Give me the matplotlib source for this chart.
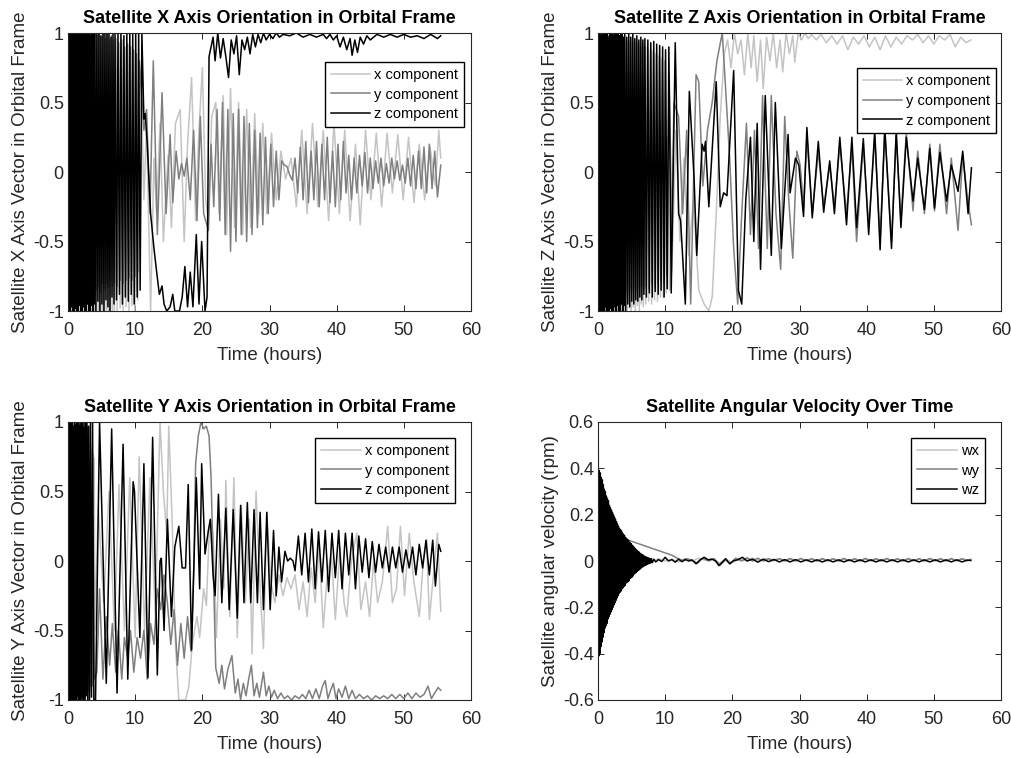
import numpy as np
import matplotlib
matplotlib.use("Agg")
import matplotlib.pyplot as plt

plt.rcParams['font.family'] = ['Liberation Sans', 'DejaVu Sans']

# ---------------- data (time in hours, value) ----------------
xticks = [0, 10, 20, 30, 40, 50, 60]
xtick_labels = ["0", "10", "20", "30", "40", "50", "60"]
yticks_orient = [-1, -0.5, 0, 0.5, 1]
ytick_labels_orient = ["-1", "-0.5", "0", "0.5", "1"]
yticks_w = [-0.6, -0.4, -0.2, 0, 0.2, 0.4, 0.6]
ytick_labels_w = ["-0.6", "-0.4", "-0.2", "0", "0.2", "0.4", "0.6"]

# Panel 1: satellite X axis
x_axis_x = [(0,0.2),(0.12,-1),(0.22,0.95),(0.32,-1),(0.42,0.92),(0.52,-1),(0.62,0.95),(0.72,-1),(0.82,0.9),(0.92,-1),
            (1.02,0.93),(1.12,-1),(1.22,0.9),(1.32,-1),(1.42,0.92),(1.52,-1),(1.62,0.88),(1.72,-1),(1.82,0.9),(1.92,-1),
            (2.02,0.87),(2.12,-1),(2.22,0.9),(2.32,-1),(2.42,0.85),(2.52,-1),(2.62,0.88),(2.72,-1),(2.82,0.85),(2.92,-1),
            (3.02,0.87),(3.12,-1),(3.22,0.83),(3.32,-1),(3.42,0.85),(3.52,-1),(3.62,0.82),(3.72,-1),(3.82,0.84),(3.92,-1),
            (4.05,0.8),(4.2,-1),(4.35,0.82),(4.5,-1),(4.65,0.8),(4.8,-1),(4.95,0.78),(5.1,-1),(5.25,0.8),(5.4,-1),
            (5.55,0.77),(5.7,-1),(5.85,0.78),(6.0,-1),(6.15,0.75),(6.3,-1),(6.45,0.77),(6.6,-1),(6.75,0.74),(6.9,-1),
            (7.1,0.75),(7.32,-1),(7.54,0.72),(7.76,-0.98),(7.98,0.74),(8.2,-1),(8.42,0.7),(8.64,-0.97),(8.86,0.72),(9.08,-1),
            (9.3,0.7),(9.52,-0.96),(9.74,0.7),(9.96,-1),(10.18,0.68),(10.4,-0.92),(10.62,0.7),(10.9,0.6),(11.3,-0.2),(11.7,0.35),
            (12.3,-1),(12.8,0.1),(13.2,-0.3),(13.7,0.35),(14.2,-0.5),(14.9,0.12),(15.4,-0.4),(16.0,0.35),(16.7,0.45),(17.3,-0.5),
            (17.8,0.2),(18.4,0.68),(19.0,-0.35),(19.5,0.3),(20.0,0.75),(20.5,-0.2),(20.9,-0.35),(21.4,0.4),(22.0,0.5),(22.5,-0.3),
            (23.1,0.55),(23.6,-0.45),(24.2,0.6),(24.8,-0.4),(25.4,0.5),(26.0,-0.45),(26.6,0.45),(27.2,-0.4),(27.8,0.42),(28.4,-0.3),
            (29.0,0.35),(29.6,-0.3),(30.3,0.28),(31.0,-0.2),(31.7,0.15),(32.4,-0.05),(33.2,0.1),(34.0,-0.25),(34.8,0.3),(35.6,-0.3),
            (36.4,0.35),(37.2,-0.25),(38.0,0.3),(38.8,-0.35),(39.6,0.35),(40.4,-0.3),(41.2,0.3),(42.0,-0.35),(42.8,0.2),(43.5,-0.38),
            (44.3,0.3),(45.1,-0.2),(45.9,0.28),(46.7,-0.25),(47.5,0.28),(48.3,-0.15),(49.1,0.27),(49.9,-0.2),(50.7,0.25),(51.5,-0.22),
            (52.3,0.2),(53.1,-0.2),(53.9,0.18),(54.7,-0.1),(55.2,0.3),(55.5,0.1)]
x_axis_y = [(0,-0.9),(0.05,1),(0.15,-0.95),(0.25,1),(0.35,-0.92),(0.45,1),(0.55,-0.95),(0.65,1),(0.75,-0.9),(0.85,1),
            (0.95,-0.93),(1.05,1),(1.15,-0.9),(1.25,1),(1.35,-0.92),(1.45,1),(1.55,-0.88),(1.65,1),(1.75,-0.9),(1.85,1),
            (1.95,-0.87),(2.05,1),(2.15,-0.9),(2.25,1),(2.35,-0.86),(2.45,1),(2.55,-0.88),(2.65,1),(2.75,-0.85),(2.85,1),
            (2.95,-0.88),(3.05,1),(3.15,-0.84),(3.25,1),(3.35,-0.87),(3.45,1),(3.55,-0.83),(3.65,1),(3.75,-0.86),(3.85,1),
            (3.95,-0.82),(4.07,1),(4.22,-0.85),(4.37,0.98),(4.52,-0.82),(4.67,1),(4.82,-0.86),(4.97,0.97),(5.12,-0.8),(5.27,1),
            (5.42,-0.84),(5.57,0.96),(5.72,-0.8),(5.87,1),(6.02,-0.83),(6.17,0.95),(6.32,-0.78),(6.47,0.98),(6.62,-0.82),(6.77,0.95),
            (6.92,-0.8),(7.1,0.96),(7.33,-0.82),(7.55,0.93),(7.77,-0.78),(7.99,0.95),(8.21,-0.8),(8.43,0.9),(8.65,-0.78),(8.87,0.92),
            (9.09,-0.76),(9.31,0.9),(9.53,-0.78),(9.75,0.88),(9.97,-0.75),(10.19,0.85),(10.41,-0.72),(10.63,0.8),(10.9,0.6),(11.3,0.3),
            (11.7,0.45),(12.2,-0.3),(12.7,0.8),(13.3,-0.45),(14.0,0.57),(14.6,-0.3),(15.2,0.27),(15.6,-0.22),(16.1,0.15),(16.5,-0.05),
            (16.9,0.06),(17.3,-0.03),(17.7,0.1),(18.2,-0.2),(18.7,0.3),(19.2,-0.35),(19.7,0.4),(20.2,-0.3),(20.9,-0.42),(21.3,0.2),
            (21.7,-0.25),(22.2,0.45),(22.6,-0.35),(23.0,0.5),(23.4,-0.45),(23.8,0.45),(24.2,-0.57),(24.6,0.42),(25.0,-0.5),(25.4,0.45),
            (25.8,-0.45),(26.2,0.4),(26.6,-0.5),(27.0,0.35),(27.4,-0.45),(27.8,0.3),(28.2,-0.4),(28.6,0.28),(29.0,-0.38),(29.4,0.25),
            (29.8,-0.3),(30.2,0.2),(30.6,-0.25),(31.0,0.15),(31.4,-0.2),(31.8,0.08),(32.2,0.05),(32.6,0.04),(33.0,-0.02),(33.4,-0.06),
            (33.8,0.1),(34.2,-0.15),(34.6,0.18),(35.0,-0.2),(35.4,0.22),(35.8,-0.22),(36.2,0.15),(36.6,-0.2),(37.0,0.22),(37.4,-0.25),
            (37.8,0.2),(38.2,-0.2),(38.6,0.25),(39.0,-0.22),(39.4,0.15),(39.8,-0.25),(40.2,0.2),(40.6,-0.2),(41.0,0.22),(41.4,-0.15),
            (41.8,0.12),(42.2,-0.2),(42.6,0.1),(43.0,-0.15),(43.4,0.12),(43.8,-0.1),(44.2,0.14),(44.6,-0.15),(45.0,0.1),(45.4,-0.12),
            (45.8,0.08),(46.2,-0.08),(46.6,0.1),(47.0,-0.1),(47.4,0.06),(47.8,-0.08),(48.2,0.1),(48.6,-0.05),(49.0,0.08),(49.4,-0.06),
            (49.8,0.05),(50.2,-0.08),(50.6,0.1),(51.0,-0.1),(51.4,0.12),(51.8,-0.12),(52.2,0.15),(52.6,-0.12),(53.0,0.18),(53.4,-0.15),
            (53.8,0.2),(54.2,-0.12),(54.6,0.15),(55.0,-0.18),(55.5,0.05)]
x_axis_z = [(0,1),(0.1,-1),(0.2,1),(0.3,-1),(0.4,1),(0.5,-0.97),(0.6,1),(0.7,-1),(0.8,1),(0.9,-1),
            (1.0,1),(1.1,-0.98),(1.2,1),(1.3,-1),(1.4,1),(1.5,-1),(1.6,1),(1.7,-0.96),(1.8,1),(1.9,-1),
            (2.0,1),(2.1,-1),(2.2,1),(2.3,-0.97),(2.4,1),(2.5,-1),(2.6,1),(2.7,-1),(2.8,1),(2.9,-0.95),
            (3.0,1),(3.1,-1),(3.2,1),(3.3,-1),(3.4,0.98),(3.5,-0.96),(3.6,1),(3.7,-1),(3.8,1),(3.9,-0.95),
            (4.0,1),(4.15,-1),(4.3,1),(4.45,-0.93),(4.6,1),(4.75,-1),(4.9,0.98),(5.05,-0.95),(5.2,1),(5.35,-1),
            (5.5,1),(5.65,-0.92),(5.8,1),(5.95,-0.97),(6.1,1),(6.25,-1),(6.4,0.97),(6.55,-0.9),(6.7,1),(6.85,-0.95),
            (7.0,1),(7.22,-0.92),(7.44,1),(7.66,-0.88),(7.88,1),(8.1,-0.95),(8.32,0.98),(8.54,-0.9),(8.76,1),(8.98,-0.93),
            (9.2,1),(9.42,-0.88),(9.64,1),(9.86,-0.95),(10.08,1),(10.3,-0.9),(10.52,1),(10.74,-0.85),(11.0,1),(11.3,0.38),
            (11.5,0.42),(11.8,0.2),(12.3,-0.3),(12.8,-0.55),(13.2,-0.72),(13.6,-0.88),(14.0,-0.82),(14.3,-0.95),(14.7,-1),(15.2,-0.97),
            (15.6,-0.88),(15.9,-1),(16.6,-1),(17.0,-0.9),(17.4,-0.68),(17.8,-0.97),(18.2,-0.72),(18.6,-0.97),(19.1,-0.45),(19.5,-0.95),
            (19.9,-0.5),(20.4,-1),(20.7,-0.9),(21.0,0.83),(21.3,0.9),(21.6,0.97),(21.9,0.8),(22.3,1.0),(22.7,0.82),(23.1,0.96),
            (23.5,0.83),(23.9,0.68),(24.3,0.95),(24.7,0.85),(25.1,0.98),(25.5,0.7),(25.9,0.95),(26.3,0.88),(26.7,0.97),(27.1,0.85),
            (27.5,0.99),(27.9,0.9),(28.3,0.99),(28.7,0.93),(29.1,1.0),(29.5,0.95),(30,0.99),(30.5,0.96),(31,1),(31.5,0.97),
            (32,0.99),(33,0.98),(34,1.0),(35,0.97),(36,0.99),(37,0.97),(38,0.99),(38.5,0.96),(39,0.99),(39.5,0.95),
            (40,0.98),(40.5,0.9),(41,0.97),(41.5,0.88),(42,0.96),(42.3,0.84),(42.7,0.95),(43.1,0.86),(43.5,0.97),(44,0.92),
            (44.5,0.98),(45,0.95),(46,0.99),(47,0.97),(48,0.99),(49,0.97),(50,0.99),(51,0.97),(52,0.98),(53,0.96),
            (54,0.99),(55,0.96),(55.5,0.98)]

# Panel 2: satellite Z axis
z_axis_x = [(0,-1),(0.1,0.9),(0.2,-1),(0.3,0.85),(0.4,-1),(0.5,0.9),(0.6,-1),(0.7,0.85),(0.8,-1),(0.9,0.82),
            (1.0,-1),(1.1,0.85),(1.2,-1),(1.3,0.8),(1.4,-1),(1.5,0.82),(1.6,-1),(1.7,0.78),(1.8,-1),(1.9,0.8),
            (2.0,-1),(2.1,0.77),(2.2,-1),(2.3,0.78),(2.4,-1),(2.5,0.75),(2.6,-1),(2.7,0.76),(2.8,-1),(2.9,0.72),
            (3.0,-1),(3.1,0.74),(3.2,-1),(3.3,0.7),(3.4,-1),(3.5,0.72),(3.6,-1),(3.7,0.68),(3.8,-1),(3.9,0.7),
            (4.05,-1),(4.2,0.66),(4.35,-1),(4.5,0.65),(4.65,-0.98),(4.8,0.62),(4.95,-1),(5.1,0.6),(5.25,-0.97),(5.4,0.6),
            (5.55,-1),(5.7,0.57),(5.85,-0.96),(6.0,0.55),(6.15,-1),(6.3,0.52),(6.45,-0.95),(6.6,0.5),(6.75,-0.97),(6.9,0.48),
            (7.1,-0.95),(7.32,0.45),(7.54,-0.93),(7.76,0.42),(7.98,-0.95),(8.2,0.4),(8.42,-0.92),(8.64,0.38),(8.86,-0.93),(9.08,0.35),
            (9.3,-0.9),(9.52,0.32),(9.74,-0.9),(9.96,0.3),(10.18,-0.87),(10.4,0.25),(10.62,-0.85),(11.0,-0.7),(11.6,0.3),(12.2,-0.5),
            (12.8,0.1),(13.5,-0.6),(14.2,-0.2),(15.0,-0.85),(15.8,-0.95),(16.5,-1.0),(17.0,-0.9),(17.6,-0.3),(18.2,0.4),(18.8,0.85),
            (19.3,0.95),(19.8,0.75),(20.3,1.0),(20.8,0.85),(21.3,0.95),(21.8,0.7),(22.3,1.0),(22.8,0.75),(23.2,0.98),(23.7,0.65),
            (24.2,0.95),(24.6,0.6),(25.1,0.97),(25.6,0.8),(26.1,1.0),(26.6,0.75),(27.1,0.95),(27.5,0.72),(28.0,1.0),(28.5,0.85),
            (29.0,0.98),(29.3,0.79),(29.8,1.0),(30.3,0.95),(30.8,1.0),(31.3,0.96),(31.8,0.99),(32.5,0.95),(33.2,0.99),(34.0,0.93),
            (34.8,0.98),(35.6,0.92),(36.4,0.98),(37.2,0.88),(38.0,0.97),(38.8,0.92),(39.6,0.98),(40.4,0.9),(41.2,0.97),(42.0,0.88),
            (42.8,0.98),(43.6,0.9),(44.4,0.97),(45.2,0.92),(46.0,0.98),(46.8,0.95),(47.6,0.99),(48.4,0.93),(49.2,0.98),(50.0,0.92),
            (50.8,0.98),(51.6,0.95),(52.4,0.99),(53.2,0.9),(54.0,0.97),(54.8,0.93),(55.5,0.95)]
z_axis_y = [(0,0.5),(0.06,-1),(0.16,1),(0.26,-1),(0.36,1),(0.46,-0.95),(0.56,1),(0.66,-1),(0.76,1),(0.86,-0.95),
            (0.96,1),(1.06,-0.97),(1.16,1),(1.26,-0.93),(1.36,1),(1.46,-0.95),(1.56,0.98),(1.66,-0.92),(1.76,1),(1.86,-0.94),
            (1.96,0.98),(2.06,-0.9),(2.16,1),(2.26,-0.93),(2.36,0.97),(2.46,-0.9),(2.56,1),(2.66,-0.92),(2.76,0.96),(2.86,-0.88),
            (2.96,0.98),(3.06,-0.9),(3.16,0.96),(3.26,-0.87),(3.36,0.97),(3.46,-0.9),(3.56,0.95),(3.66,-0.86),(3.76,0.96),(3.86,-0.88),
            (3.96,0.95),(4.1,-0.86),(4.25,0.95),(4.4,-0.88),(4.55,0.94),(4.7,-0.85),(4.85,0.95),(5.0,-0.87),(5.15,0.93),(5.3,-0.84),
            (5.45,0.94),(5.6,-0.86),(5.75,0.92),(5.9,-0.83),(6.05,0.93),(6.2,-0.85),(6.35,0.9),(6.5,-0.82),(6.65,0.92),(6.8,-0.84),
            (6.95,0.9),(7.15,-0.82),(7.37,0.9),(7.59,-0.84),(7.81,0.88),(8.03,-0.8),(8.25,0.87),(8.47,-0.82),(8.69,0.85),(8.91,-0.8),
            (9.13,0.84),(9.35,-0.78),(9.57,0.82),(9.79,-0.8),(10.01,0.8),(10.23,-0.75),(10.6,0.7),(11.0,-0.5),(11.3,0.5),(12.0,0.4),
            (12.6,-0.3),(13.2,0.3),(13.8,-0.95),(14.6,0.7),(15.0,0.65),(15.6,-0.1),(16.3,0.3),(17.0,0.5),(17.7,0.8),(18.5,1.0),
            (19.0,0.6),(19.6,0.1),(20.2,-0.55),(20.8,-0.95),(21.4,-0.3),(22.1,0.35),(22.7,-0.45),(23.3,0.3),(23.9,-0.55),(24.5,0.55),
            (25.2,-0.55),(25.8,0.55),(26.5,-0.3),(27.2,-0.7),(27.8,0.4),(28.4,-0.2),(29.0,-0.62),(29.6,0.15),(30.1,0.05),(30.6,-0.25),
            (31.1,0.25),(31.9,-0.3),(32.8,0.15),(33.6,-0.25),(34.5,0.05),(35.2,-0.25),(36.0,0.2),(37.0,-0.3),(37.8,0.18),(38.5,-0.5),
            (39.5,0.2),(40.3,-0.4),(41.2,0.25),(42.0,-0.48),(42.7,0.3),(43.7,-0.5),(44.4,0.25),(45.1,-0.35),(45.9,0.28),(46.9,-0.28),
            (47.6,0.15),(48.6,-0.3),(49.4,0.2),(50.1,-0.28),(50.9,0.2),(51.9,-0.3),(52.6,0.1),(53.6,-0.42),(54.3,0.12),(55.1,-0.22),
            (55.6,-0.38)]
z_axis_z = [(0,1),(0.08,-1),(0.18,1),(0.28,-1),(0.38,1),(0.48,-1),(0.58,0.98),(0.68,-1),(0.78,1),(0.88,-1),
            (0.98,1),(1.08,-0.97),(1.18,1),(1.28,-1),(1.38,1),(1.48,-1),(1.58,0.97),(1.68,-1),(1.78,1),(1.88,-0.98),
            (1.98,1),(2.08,-1),(2.18,1),(2.28,-1),(2.38,0.98),(2.48,-0.97),(2.58,1),(2.68,-1),(2.78,1),(2.88,-0.96),
            (2.98,1),(3.08,-1),(3.18,0.98),(3.28,-1),(3.38,1),(3.48,-0.95),(3.58,1),(3.68,-1),(3.78,0.97),(3.88,-0.96),
            (3.98,1),(4.13,-1),(4.28,0.97),(4.43,-0.95),(4.58,1),(4.73,-0.97),(4.88,0.97),(5.03,-0.93),(5.18,1),(5.33,-0.95),
            (5.48,0.96),(5.63,-0.92),(5.78,0.98),(5.93,-0.93),(6.08,0.95),(6.23,-0.9),(6.38,0.97),(6.53,-0.92),(6.68,0.95),(6.83,-0.88),
            (6.98,0.96),(7.2,-0.9),(7.42,0.95),(7.64,-0.87),(7.86,0.93),(8.08,-0.9),(8.3,0.94),(8.52,-0.86),(8.74,0.92),(8.96,-0.88),
            (9.18,0.91),(9.4,-0.85),(9.62,0.9),(9.84,-0.9),(10.06,0.88),(10.3,-0.84),(10.55,0.9),(10.9,-0.87),(11.5,0.93),(12.0,-0.3),
            (12.3,-0.35),(13.0,-0.95),(13.6,0.58),(14.3,-0.04),(14.7,-0.6),(15.5,0.2),(15.8,0.15),(16.0,0.22),(16.5,-0.25),(17.6,0.65),
            (18.2,-0.25),(18.7,-0.15),(19.2,-0.17),(20.2,0.73),(20.9,-0.85),(21.4,-0.95),(22.0,-0.2),(22.7,0.25),(23.2,-0.5),(23.7,0.35),
            (24.2,-0.7),(24.9,0.55),(25.8,-0.6),(26.4,0.5),(27.3,-0.55),(28.3,0.27),(28.6,-0.15),(29.4,0.1),(29.9,0.05),(30.6,-0.32),
            (31.1,0.32),(31.9,-0.33),(32.8,0.22),(33.6,-0.29),(34.5,0.08),(35.2,-0.3),(36.0,0.25),(37.0,-0.38),(37.8,0.25),(38.5,-0.4),
            (39.5,0.24),(40.3,-0.45),(41.2,0.3),(42.0,-0.56),(42.7,0.32),(43.7,-0.55),(44.4,0.3),(45.1,-0.4),(45.9,0.25),(46.9,-0.21),
            (47.6,0.1),(48.6,-0.27),(49.4,0.17),(50.1,-0.26),(50.9,0.14),(51.9,-0.21),(52.6,0.05),(53.6,-0.14),(54.3,0.15),(55.1,-0.3),
            (55.6,0.03)]

# Panel 3: satellite Y axis
y_axis_x = [(0,0),(0.1,1),(0.2,-0.9),(0.3,1),(0.4,-0.92),(0.5,1),(0.6,-0.9),(0.7,1),(0.8,-0.88),(0.9,1),
            (1.0,-0.87),(1.1,0.98),(1.2,-0.85),(1.3,1),(1.4,-0.83),(1.5,0.97),(1.6,-0.82),(1.7,0.98),(1.8,-0.8),(1.9,0.95),
            (2.0,-0.78),(2.1,0.95),(2.2,-0.75),(2.3,0.92),(2.4,-0.73),(2.5,0.9),(2.6,-0.7),(2.7,0.9),(2.8,-0.68),(2.9,0.86),
            (3.0,-0.65),(3.1,0.85),(3.2,-0.62),(3.3,0.82),(3.4,-0.6),(3.5,0.8),(3.6,-0.57),(3.7,0.77),(3.8,-0.55),(3.9,0.74),
            (4.0,-0.5),(4.5,0.4),(5.3,-0.3),(6.1,0.5),(6.9,-0.5),(7.6,0.55),(8.4,-0.5),(9.2,0.6),(10.0,-0.55),(10.6,0.75),
            (11.4,-0.5),(12.2,0.6),(13.0,-0.4),(13.7,1.0),(14.2,0.5),(14.7,0.2),(15.0,0.97),(15.5,0.3),(16.0,-0.6),(16.5,-1.0),
            (17.5,-1.0),(18.0,-0.9),(18.5,-0.6),(19.2,-0.4),(19.6,-0.55),(20.2,-0.2),(20.6,-0.32),(21.1,0.3),(21.6,0.2),(22.1,-0.55),
            (22.7,0.3),(23.2,-0.2),(23.5,0.58),(24.1,-0.4),(24.7,0.6),(25.2,-0.55),(25.8,0.4),(26.4,-0.3),(27.0,0.3),(27.4,-0.67),
            (28.0,0.5),(28.6,-0.2),(29.1,-0.63),(29.6,0.35),(30.2,-0.15),(30.8,-0.3),(31.4,-0.1),(32.0,-0.25),(32.6,-0.12),(33.2,-0.2),
            (33.8,-0.1),(34.4,-0.35),(35.0,-0.15),(35.6,-0.4),(36.2,-0.05),(36.8,-0.3),(37.4,0.1),(38.0,-0.48),(38.6,-0.1),(39.2,0.05),
            (39.8,-0.42),(40.5,0.1),(41.1,-0.3),(41.5,-0.4),(42.2,0.0),(43.0,0.2),(43.6,-0.35),(44.3,-0.15),(44.9,-0.4),(45.5,0.0),
            (46.1,-0.3),(46.8,-0.15),(47.6,0.25),(48.3,-0.3),(48.9,-0.2),(49.5,0.25),(50.1,-0.25),(50.8,0.2),(51.5,-0.15),(52.3,-0.4),
            (52.9,0.0),(53.4,0.15),(53.8,-0.42),(54.4,-0.1),(55.0,0.2),(55.5,-0.36)]
y_axis_y = [(0,-1),(0.1,1),(0.2,-1),(0.3,0.95),(0.4,-1),(0.5,0.92),(0.6,-1),(0.7,0.9),(0.8,-1),(0.9,0.88),
            (1.0,-0.98),(1.1,0.85),(1.2,-1),(1.3,0.82),(1.4,-0.97),(1.5,0.8),(1.6,-1),(1.7,0.76),(1.8,-0.96),(1.9,0.72),
            (2.0,-1),(2.1,0.68),(2.2,-0.95),(2.3,0.64),(2.4,-0.98),(2.5,0.6),(2.6,-0.94),(2.7,0.55),(2.8,-0.95),(2.9,0.5),
            (3.0,-0.93),(3.1,0.45),(3.2,-0.94),(3.3,0.4),(3.4,-0.9),(3.5,0.35),(3.6,-0.9),(3.75,0.3),(3.9,-0.85),(4.3,-0.8),
            (4.7,-0.2),(5.2,-0.85),(5.7,-0.4),(6.2,-0.75),(6.6,-0.45),(7.1,-0.8),(7.5,-0.5),(8.0,-0.85),(8.4,-0.55),(8.9,-0.7),
            (9.3,-0.5),(9.8,-0.8),(10.3,-0.55),(10.8,-0.7),(11.3,-0.5),(11.8,-0.85),(12.3,-0.45),(12.8,-0.6),(13.3,-0.2),(13.8,-0.35),
            (14.3,-0.1),(14.8,-0.3),(15.3,-0.6),(15.8,-0.35),(16.3,-0.75),(16.8,-0.45),(17.3,-0.7),(17.8,-0.4),(18.3,-0.65),(18.7,-0.1),
            (19.0,0.7),(19.4,0.9),(19.8,1.0),(20.2,0.95),(20.6,0.97),(21.0,0.9),(21.3,0.6),(21.6,0.0),(22.0,-0.77),(22.5,-0.88),
            (22.9,-0.75),(23.3,-0.92),(23.8,-0.78),(24.4,-0.68),(24.9,-0.95),(25.3,-0.85),(25.7,-1.0),(26.1,-0.88),(26.5,-0.97),(26.9,-0.85),
            (27.3,-0.75),(27.7,-0.97),(28.1,-0.88),(28.5,-0.98),(29.1,-0.8),(29.5,-0.97),(29.9,-0.9),(30.3,-0.98),(30.7,-0.93),(31.2,-0.99),
            (31.7,-0.95),(32.2,-0.99),(32.7,-0.97),(33.3,-1.0),(33.8,-0.97),(34.4,-0.99),(34.9,-0.96),(35.4,-0.99),(35.9,-0.93),(36.4,-0.99),
            (36.9,-0.92),(37.4,-0.99),(37.9,-0.9),(38.3,-0.86),(38.7,-0.99),(39.1,-0.93),(39.5,-0.88),(39.9,-0.99),(40.3,-0.92),(40.8,-0.98),
            (41.3,-0.9),(41.8,-0.99),(42.3,-0.93),(42.8,-0.99),(43.4,-0.96),(44.0,-0.99),(44.6,-0.97),(45.2,-1.0),(45.8,-0.97),(46.4,-0.99),
            (47.0,-0.97),(47.6,-0.99),(48.2,-0.96),(48.8,-0.99),(49.4,-0.96),(50.0,-0.99),(50.6,-0.95),(51.2,-0.99),(51.8,-0.95),(52.4,-0.98),
            (53.0,-0.96),(53.6,-0.9),(54.1,-0.99),(54.6,-0.95),(55.1,-0.91),(55.5,-0.93)]
y_axis_z = [(0,1),(0.08,-1),(0.18,1),(0.28,-1),(0.38,1),(0.48,-1),(0.58,1),(0.68,-1),(0.78,0.97),(0.88,-1),
            (0.98,1),(1.08,-1),(1.18,0.98),(1.28,-1),(1.38,1),(1.48,-0.97),(1.58,1),(1.68,-1),(1.78,0.97),(1.88,-1),
            (1.98,1),(2.08,-0.98),(2.18,1),(2.28,-1),(2.38,0.96),(2.48,-1),(2.58,1),(2.7,-0.97),(2.82,1),(2.94,-1),
            (3.06,0.97),(3.2,-1),(3.34,1),(3.5,-0.98),(3.66,1),(3.85,-1),(4.1,-1),(4.7,1.0),(5.7,-0.88),(6.5,0.95),
            (7.3,-0.95),(8.2,0.84),(8.9,-0.85),(9.7,0.57),(9.9,0.5),(10.7,-0.55),(11.3,0.7),(11.9,-0.84),(12.6,0.89),(13.3,-0.82),
            (13.7,0.0),(13.9,0.02),(14.3,-0.5),(14.8,0.3),(15.4,-0.4),(15.9,0.1),(16.5,0.25),(17.0,-0.05),(17.5,-0.05),(17.9,0.55),
            (18.4,-0.64),(19.1,0.6),(19.6,-0.2),(19.9,0.7),(20.4,0.05),(20.9,0.22),(21.2,0.3),(21.6,-0.1),(21.9,-0.25),(22.4,0.48),
            (22.9,-0.3),(23.5,0.38),(24.0,-0.35),(24.6,0.37),(25.2,-0.41),(25.7,0.4),(26.2,-0.3),(26.7,0.42),(27.2,-0.3),(27.7,0.37),
            (28.2,-0.3),(28.6,0.35),(29.1,-0.35),(29.6,0.35),(30.1,-0.35),(30.6,0.22),(31.0,-0.25),(31.4,0.1),(31.8,-0.15),(32.3,0.07),
            (32.7,0.0),(33.1,0.02),(33.5,0.0),(33.8,-0.07),(34.3,0.18),(34.8,-0.1),(35.3,0.2),(35.8,-0.15),(36.3,0.23),(36.8,-0.2),
            (37.3,0.21),(37.8,-0.15),(38.3,0.22),(38.8,-0.22),(39.3,0.2),(39.8,-0.12),(40.3,0.22),(40.8,-0.2),(41.3,0.2),(41.8,-0.1),
            (42.3,0.2),(42.8,-0.2),(43.3,0.18),(43.8,-0.08),(44.3,0.16),(44.8,-0.12),(45.3,0.14),(45.8,-0.08),(46.3,0.12),(46.8,-0.05),
            (47.3,0.1),(47.8,-0.08),(48.3,0.1),(48.8,-0.05),(49.3,0.1),(49.8,-0.08),(50.3,0.08),(50.8,-0.05),(51.3,0.1),(51.8,-0.1),
            (52.3,0.12),(52.8,-0.05),(53.3,0.15),(53.8,-0.1),(54.3,0.15),(54.7,-0.18),(55.2,0.12),(55.5,0.07)]

# Panel 4: angular velocity (rpm)
w_x = [(0,0.55),(0.05,0.45),(0.1,0.3),(0.2,-0.1),(0.35,0.2),(0.5,-0.05),(0.7,0.15),(1.0,0.0),(1.4,0.1),(2.0,0.02),
       (3.0,0.05),(4.0,0.02),(5.0,0.03),(6.0,0.0),(7.0,0.01),(8.0,-0.005),(9.0,0.01),(10.0,0.0),(11.0,0.008),(12.0,-0.004),
       (13.0,0.01),(14.0,0.0),(15.0,0.012),(16.0,0.003),(17.0,0.01),(18.0,-0.01),(19.0,0.008),(20.0,-0.008),(21.0,0.01),(22.0,0.002),
       (23.0,0.012),(24.0,0.002),(25.0,0.01),(26.0,0.0),(27.0,0.01),(27.8,0.002),(28.6,0.012),(29.4,0.002),(30.2,0.012),(31.0,0.002),
       (31.8,0.011),(32.6,0.002),(33.4,0.012),(34.2,0.002),(35.0,0.011),(35.8,0.002),(36.6,0.012),(37.4,0.002),(38.2,0.011),(39.0,0.002),
       (39.8,0.012),(40.6,0.002),(41.4,0.011),(42.2,0.002),(43.0,0.012),(43.8,0.002),(44.6,0.011),(45.4,0.002),(46.2,0.012),(47.0,0.002),
       (47.8,0.011),(48.6,0.002),(49.4,0.012),(50.2,0.002),(51.0,0.011),(51.8,0.002),(52.6,0.012),(53.4,0.002),(54.2,0.011),(55.0,0.003),
       (55.5,0.008)]
w_y = [(0,0.1),(0.1,-0.3),(0.25,0.35),(0.4,-0.28),(0.6,0.3),(0.8,-0.22),(1.0,0.27),(1.25,-0.17),(1.5,0.24),(1.75,-0.12),
       (2.0,0.2),(2.3,-0.08),(2.6,0.17),(2.9,-0.03),(3.2,0.14),(3.5,0.03),(3.8,0.11),(4.2,0.093),(5.0,0.085),(6.0,0.075),
       (7.0,0.065),(8.0,0.055),(9.0,0.045),(10.0,0.035),(11.1,0.024),(11.8,0.012),(12.5,0.003),(13.2,0.01),(14.0,0.004),(14.8,-0.01),
       (15.6,0.012),(16.5,0.0),(17.3,0.01),(18.2,-0.018),(19.0,0.005),(19.7,-0.012),(20.5,0.012),(21.4,0.0),(22.2,0.014),(23.0,0.0),
       (23.8,0.012),(24.6,0.0),(25.4,0.01),(26.2,0.002),(27.0,0.01),(27.8,0.0),(28.6,0.01),(29.4,0.0),(30.2,0.01),(31.0,0.001),
       (31.8,0.009),(32.6,0.0),(33.4,0.009),(34.2,0.001),(35.0,0.009),(35.8,0.0),(36.6,0.01),(37.4,0.001),(38.2,0.009),(39.0,0.0),
       (39.8,0.01),(40.6,0.001),(41.4,0.009),(42.2,0.0),(43.0,0.01),(43.8,0.001),(44.6,0.009),(45.4,0.0),(46.2,0.009),(47.0,0.001),
       (47.8,0.009),(48.6,0.0),(49.4,0.01),(50.2,0.001),(51.0,0.009),(51.8,0.0),(52.6,0.009),(53.4,0.001),(54.2,0.009),(55.0,0.001),
       (55.5,0.006)]
w_z = [(0,0.0),(0.04,0.4),(0.11,-0.41),(0.19,0.39),(0.26,-0.4),(0.34,0.38),(0.41,-0.37),(0.49,0.36),(0.56,-0.35),(0.64,0.35),
       (0.71,-0.33),(0.79,0.33),(0.86,-0.31),(0.94,0.31),(1.01,-0.29),(1.09,0.3),(1.16,-0.28),(1.24,0.28),(1.31,-0.27),(1.39,0.27),
       (1.46,-0.25),(1.54,0.26),(1.61,-0.24),(1.69,0.24),(1.76,-0.23),(1.84,0.23),(1.91,-0.22),(1.99,0.22),(2.06,-0.21),(2.14,0.21),
       (2.21,-0.2),(2.29,0.2),(2.36,-0.19),(2.44,0.19),(2.51,-0.18),(2.59,0.18),(2.66,-0.17),(2.74,0.17),(2.81,-0.16),(2.89,0.16),
       (2.96,-0.15),(3.04,0.15),(3.11,-0.14),(3.19,0.14),(3.26,-0.135),(3.34,0.135),(3.41,-0.13),(3.49,0.13),(3.56,-0.12),(3.64,0.12),
       (3.71,-0.115),(3.79,0.115),(3.86,-0.11),(3.94,0.11),(4.04,-0.105),(4.14,0.1),(4.24,-0.095),(4.34,0.095),(4.44,-0.09),(4.54,0.09),
       (4.64,-0.085),(4.74,0.08),(4.84,-0.075),(4.94,0.075),(5.04,-0.07),(5.14,0.068),(5.24,-0.064),(5.34,0.06),(5.44,-0.056),(5.54,0.054),
       (5.64,-0.05),(5.74,0.048),(5.84,-0.045),(5.94,0.042),(6.04,-0.04),(6.14,0.038),(6.24,-0.035),(6.34,0.033),(6.44,-0.03),(6.54,0.028),
       (6.64,-0.026),(6.74,0.025),(6.84,-0.022),(6.94,0.021),(7.04,-0.019),(7.14,0.018),(7.24,-0.016),(7.34,0.015),(7.44,-0.013),(7.54,0.013),
       (7.64,-0.011),(7.74,0.011),(7.84,-0.009),(7.94,0.01),(8.1,-0.007),(8.3,0.008),(8.6,-0.004),(9.0,0.006),(9.5,-0.002),(10.0,0.016),
       (10.5,0.0),(11.0,0.006),(11.5,-0.005),(12.0,0.008),(12.5,-0.003),(13.0,0.006),(13.5,0.0),(14.0,0.004),(14.6,-0.012),(15.2,0.005),
       (15.8,0.016),(16.4,0.005),(17.0,0.008),(17.5,0.0),(18.0,-0.02),(18.5,-0.005),(19.0,0.01),(19.6,-0.012),(20.2,0.002),(20.8,0.005),
       (21.5,0.016),(22.2,0.0),(23.0,0.008),(23.8,-0.005),(24.6,0.008),(25.4,-0.003),(26.2,0.007),(27.0,-0.004),(27.8,0.006),(28.6,-0.004),
       (29.4,0.006),(30.2,-0.004),(31.0,0.005),(31.8,-0.004),(32.6,0.005),(33.4,-0.004),(34.2,0.005),(35.0,-0.004),(35.8,0.005),(36.6,-0.004),
       (37.4,0.005),(38.2,-0.004),(39.0,0.005),(39.8,-0.004),(40.6,0.005),(41.4,-0.004),(42.2,0.005),(43.0,-0.004),(43.8,0.005),(44.6,-0.004),
       (45.4,0.005),(46.2,-0.004),(47.0,0.005),(47.8,-0.004),(48.6,0.005),(49.4,-0.004),(50.2,0.005),(51.0,-0.004),(51.8,0.005),(52.6,-0.004),
       (53.4,0.005),(54.2,-0.004),(55.0,0.004),(55.5,0.002)]

titles = ["Satellite X Axis Orientation in Orbital Frame",
          "Satellite Z Axis Orientation in Orbital Frame",
          "Satellite Y Axis Orientation in Orbital Frame",
          "Satellite Angular Velocity Over Time"]
ylabels = ["Satellite X Axis Vector in Orbital Frame",
           "Satellite Z Axis Vector in Orbital Frame",
           "Satellite Y Axis Vector in Orbital Frame",
           "Satellite angular velocity (rpm)"]
labels_orient = ["x component", "y component", "z component"]
labels_w = ["wx", "wy", "wz"]

# ---------------- styling ----------------
colors = ["#c4c4c4", "#7f7f7f", "#000000"]
axcolor = "#262626"


def split(pairs):
    t, v = zip(*pairs)
    return np.array(t), np.array(v)


fig = plt.figure(figsize=(10.11, 7.58), dpi=100)
W, H = 1011, 758
boxes = [(68, 33), (598, 33), (68, 422), (598, 422)]  # left, top in px
aw, ah = 403, 278

panels = [
    ([x_axis_x, x_axis_y, x_axis_z], labels_orient, (-1, 1), yticks_orient, ytick_labels_orient, (0.983, 0.896)),
    ([z_axis_x, z_axis_y, z_axis_z], labels_orient, (-1, 1), yticks_orient, ytick_labels_orient, (0.988, 0.874)),
    ([y_axis_x, y_axis_y, y_axis_z], labels_orient, (-1, 1), yticks_orient, ytick_labels_orient, (0.960, 0.943)),
    ([w_x, w_y, w_z], labels_w, (-0.6, 0.6), yticks_w, ytick_labels_w, (0.960, 0.943)),
]

for i, (series, labs, ylim, yt, ytl, lpos) in enumerate(panels):
    left, top = boxes[i]
    ax = fig.add_axes([left / W, 1 - (top + ah) / H, aw / W, ah / H])
    for s, c, lab in zip(series, colors, labs):
        t, v = split(s)
        ax.plot(t, v, color=c, lw=1.1, label=lab)
    ax.set_xlim(0, 60)
    ax.set_ylim(*ylim)
    ax.set_xticks(xticks)
    ax.set_xticklabels(xtick_labels)
    ax.set_yticks(yt)
    ax.set_yticklabels(ytl)
    ax.tick_params(direction="in", length=4.5, width=0.7, colors=axcolor, labelsize=13,
                   top=True, right=True)
    ax.tick_params(axis="x", pad=8)
    ax.tick_params(axis="y", pad=3)
    for sp in ax.spines.values():
        sp.set_color(axcolor)
        sp.set_linewidth(0.8)
    ax.set_title(titles[i], fontsize=13, fontweight="bold", color="black", pad=7)
    ax.set_xlabel("Time (hours)", fontsize=13.5, color=axcolor, labelpad=6)
    ax.set_ylabel(ylabels[i], fontsize=13.5, color=axcolor, labelpad=3)
    leg = ax.legend(loc="upper right", bbox_to_anchor=lpos, fontsize=10.5, frameon=True,
                    fancybox=False, framealpha=1, edgecolor="black", handlelength=2.7,
                    handletextpad=0.3, borderpad=0.4, labelspacing=0.4, borderaxespad=0)
    leg.get_frame().set_linewidth(1.0)

fig.savefig("out.png", dpi=100)
